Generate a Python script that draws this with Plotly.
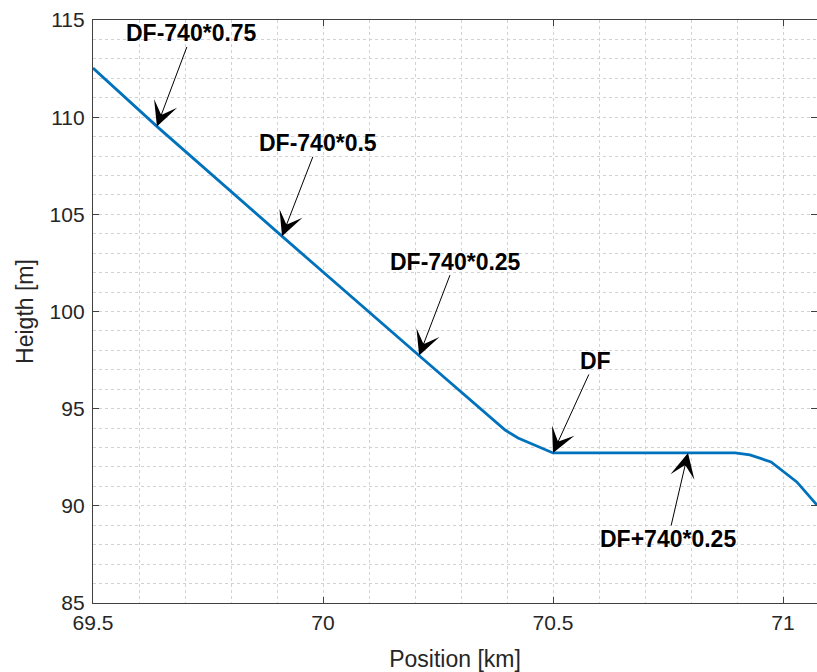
import numpy as np
import plotly.graph_objects as go

# ---- data ----
pos_km = [69.50, 69.64, 69.91, 70.10, 70.21, 70.396, 70.424, 70.50, 70.70, 70.896,
          70.928, 70.974, 71.030, 71.074]
height_m = [112.53, 109.50, 103.89, 99.95, 97.71, 93.90, 93.49, 92.72, 92.72, 92.72,
            92.62, 92.26, 91.23, 90.04]

ann_labels = ["DF-740*0.75", "DF-740*0.5", "DF-740*0.25", "DF", "DF+740*0.25"]
ann_pos_km = [69.639, 69.911, 70.209, 70.50, 70.7935]

x_ticks = [69.5, 70, 70.5, 71]
y_ticks = [85, 90, 95, 100, 105, 110, 115]

# ---- layout constants (pixel offsets of label centers from arrow tips) ----
ann_offsets = [(35, -93), (36, -93), (36, -94), (42, -92), (-20, 86)]

ann_heights = np.interp(ann_pos_km, pos_km, height_m)

fig = go.Figure()
fig.add_trace(go.Scatter(
    x=pos_km, y=height_m, mode="lines",
    line=dict(color="#0072BD", width=2.8),
    showlegend=False, hoverinfo="skip",
))

for lab, xa, ya, (dx, dy) in zip(ann_labels, ann_pos_km, ann_heights, ann_offsets):
    fig.add_annotation(
        x=xa, y=ya, xref="x", yref="y", text=f"<b>{lab}</b>",
        showarrow=True, ax=dx, ay=dy, axref="pixel", ayref="pixel",
        arrowhead=3, arrowsize=4.1, arrowwidth=1, arrowcolor="#000000",
        font=dict(family="Liberation Sans, Arial, sans-serif", size=23, color="#000000"),
        borderpad=0,
    )

grid_col = "#d2d2d2"
axis_col = "#404040"
tick_font = dict(family="Liberation Sans, Arial, sans-serif", size=21, color="#262626")
title_font = dict(family="Liberation Sans, Arial, sans-serif", size=23, color="#262626")

fig.update_layout(
    width=817, height=672,
    margin=dict(l=93, r=0, t=20, b=69, autoexpand=False),
    paper_bgcolor="white", plot_bgcolor="white",
    xaxis=dict(
        range=[69.5, 71.0739], tickvals=x_ticks, ticktext=[str(v) for v in x_ticks],
        ticks="inside", ticklen=6, tickcolor=axis_col, tickwidth=1,
        showline=True, linecolor=axis_col, linewidth=1.3, mirror="ticks",
        showgrid=True, gridcolor=grid_col, griddash="dot", gridwidth=1,
        minor=dict(dtick=0.1, tick0=69.5, showgrid=True, gridcolor=grid_col,
                   griddash="dot", gridwidth=1, ticks=""),
        zeroline=False, tickfont=tick_font, ticklabelstandoff=1, automargin=False,
        title=dict(text="Position [km]", font=title_font, standoff=17),
    ),
    yaxis=dict(
        range=[85, 115], tickvals=y_ticks,
        ticks="inside", ticklen=6, tickcolor=axis_col, tickwidth=1,
        showline=True, linecolor=axis_col, linewidth=1.3, mirror="ticks",
        showgrid=True, gridcolor=grid_col, griddash="dot", gridwidth=1,
        minor=dict(dtick=1, tick0=85, showgrid=True, gridcolor=grid_col,
                   griddash="dot", gridwidth=1, ticks=""),
        zeroline=False, tickfont=tick_font, ticklabelstandoff=3, automargin=False,
        title=dict(text="Heigth [m]", font=title_font, standoff=9),
    ),
)

fig.write_html("out.html", config={"displayModeBar": False},
               post_script="document.body.style.margin='0px';")
